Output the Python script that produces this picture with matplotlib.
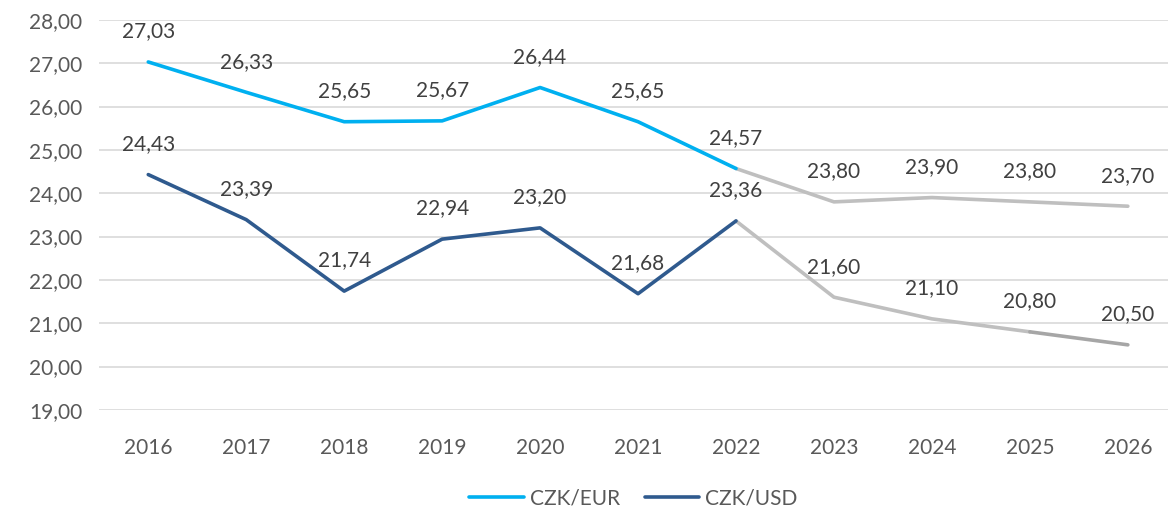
import matplotlib.pyplot as plt
import matplotlib.ticker as mticker

years = ['2016', '2017', '2018', '2019', '2020', '2021', '2022', '2023', '2024', '2025', '2026']
czk_eur = [27.03, 26.33, 25.65, 25.67, 26.44, 25.65, 24.57, 23.80, 23.90, 23.80, 23.70]
czk_usd = [24.43, 23.39, 21.74, 22.94, 23.20, 21.68, 23.36, 21.60, 21.10, 20.80, 20.50]
last_actual = 6  # 2022, after that forecast (gray)

plt.rcParams['font.family'] = ['Lato', 'DejaVu Sans']

eur_col = '#00b0f0'
usd_col = '#2f5a8e'
fc_col = '#bfbfbf'
fc_col2 = '#a6a6a6'
txt_col = '#404040'
fs = 15

fig = plt.figure(figsize=(11.68, 5.11), dpi=100)
ax = fig.add_axes([0.085, 0.198, 0.915, 0.763])

x = list(range(len(years)))
lw = 2.6

ax.plot(x[:last_actual + 1], czk_eur[:last_actual + 1], color=eur_col, lw=lw,
        solid_capstyle='round', label='CZK/EUR', zorder=3)
ax.plot(x[last_actual:], czk_eur[last_actual:], color=fc_col, lw=lw,
        solid_capstyle='round', zorder=2)
ax.plot(x[:last_actual + 1], czk_usd[:last_actual + 1], color=usd_col, lw=lw,
        solid_capstyle='round', label='CZK/USD', zorder=3)
ax.plot(x[last_actual:-1], czk_usd[last_actual:-1], color=fc_col, lw=lw,
        solid_capstyle='round', zorder=2)
ax.plot(x[-2:], czk_usd[-2:], color=fc_col2, lw=lw, solid_capstyle='round', zorder=2)

def fmt(v):
    return f'{v:.2f}'.replace('.', ',')

for xi, v in zip(x, czk_eur):
    ax.annotate(fmt(v), (xi, v), xytext=(0, 22), textcoords='offset points',
                ha='center', va='center', fontsize=fs, color=txt_col)
for xi, v in zip(x, czk_usd):
    ax.annotate(fmt(v), (xi, v), xytext=(0, 22), textcoords='offset points',
                ha='center', va='center', fontsize=fs, color=txt_col)

ax.set_ylim(19, 28)
ax.set_xlim(-0.5, 10.41)
ax.yaxis.set_major_locator(mticker.MultipleLocator(1))
ax.yaxis.set_major_formatter(mticker.FuncFormatter(lambda v, p: fmt(v)))
ax.set_xticks(x)
ax.set_xticklabels(years)
ax.tick_params(axis='both', length=0, labelsize=fs, labelcolor='#595959')
ax.tick_params(axis='x', pad=20)
ax.tick_params(axis='y', pad=12)
ax.grid(axis='y', color='#d9d9d9', lw=1.2)
ax.set_axisbelow(True)
for s in ax.spines.values():
    s.set_visible(False)

ax.legend(loc='lower center', bbox_to_anchor=(0.5, -0.30), ncol=2, frameon=False,
          fontsize=fs, labelcolor='#595959', handlelength=2.6, columnspacing=1.2,
          handletextpad=0.3)

fig.savefig('out.png', dpi=100)
